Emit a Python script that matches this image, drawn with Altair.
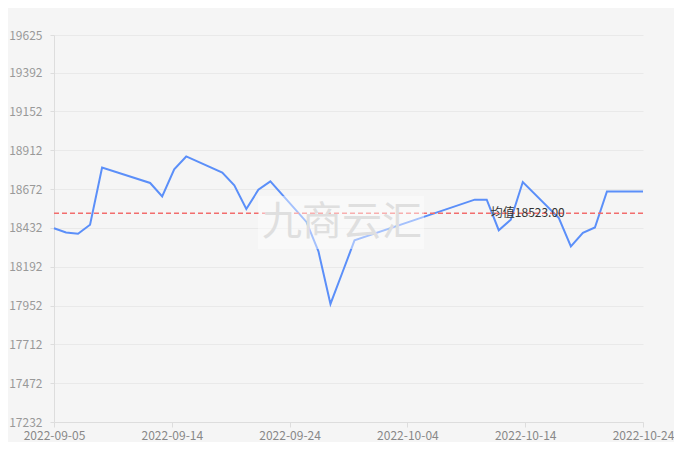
import altair as alt
import pandas as pd

dates = [
    "2022-09-05", "2022-09-06", "2022-09-07", "2022-09-08", "2022-09-09",
    "2022-09-13", "2022-09-14", "2022-09-15", "2022-09-16",
    "2022-09-19", "2022-09-20", "2022-09-21", "2022-09-22", "2022-09-23",
    "2022-09-26", "2022-09-27", "2022-09-28", "2022-09-29", "2022-09-30",
    "2022-10-10", "2022-10-11", "2022-10-12", "2022-10-13", "2022-10-14",
    "2022-10-17", "2022-10-18", "2022-10-19", "2022-10-20", "2022-10-21",
    "2022-10-24",
]
values = [
    18430, 18404, 18396, 18452, 18806,
    18710, 18627, 18794, 18874,
    18774, 18695, 18549, 18668, 18720,
    18469, 18287, 17962, 18158, 18355,
    18607, 18607, 18418, 18483, 18716,
    18493, 18318, 18401, 18435, 18658,
    18658,
]
y_ticks = [17232, 17472, 17712, 17952, 18192, 18432, 18672, 18912, 19152, 19392, 19625]
mean_value = 18523.00
mean_label = "均值18523.00"
mean_label_date = "2022-10-14"
watermark = "九商云汇"

FONT = "Noto Sans CJK SC"

df = pd.DataFrame({"date": dates, "value": values})

x_ticks = [
    alt.DateTime(year=2022, month=9, date=5, utc=True),
    alt.DateTime(year=2022, month=9, date=14, hours=19, minutes=12, utc=True),
    alt.DateTime(year=2022, month=9, date=24, hours=14, minutes=24, utc=True),
    alt.DateTime(year=2022, month=10, date=4, hours=9, minutes=36, utc=True),
    alt.DateTime(year=2022, month=10, date=14, hours=4, minutes=48, utc=True),
    alt.DateTime(year=2022, month=10, date=24, utc=True),
]

x_scale = alt.Scale(
    type="utc",
    domain=[alt.DateTime(year=2022, month=9, date=5, utc=True),
            alt.DateTime(year=2022, month=10, date=24, utc=True)],
    nice=False,
)
y_scale = alt.Scale(domain=[y_ticks[0], y_ticks[-1]], nice=False, zero=False)

x_enc = alt.X(
    "date:T", scale=x_scale,
    axis=alt.Axis(values=x_ticks, format="%Y-%m-%d", title=None, grid=False,
                  labelColor="#888888", labelFontSize=12, labelFont=FONT,
                  tickColor="#dddddd", tickSize=5, domainColor="#dddddd",
                  labelPadding=3, labelAngle=0, labelFlush=False, labelOverlap=False,
                  tickCount=20),
)
y_enc = alt.Y(
    "value:Q", scale=y_scale,
    axis=alt.Axis(values=y_ticks, title=None, grid=True, gridColor="#e9e9e9",
                  labelColor="#999999", labelFontSize=12, labelFont=FONT,
                  tickColor="#dddddd", tickSize=4, domainColor="#dddddd",
                  labelPadding=8, format="d", labelOverlap=False, labelFlush=False,
                  tickCount=20),
)

line = alt.Chart(df).mark_line(color="#5b8ff9", strokeWidth=2).encode(x=x_enc, y=y_enc)

mean_df = pd.DataFrame({"value": [mean_value], "date": [mean_label_date], "label": [mean_label]})
rule = alt.Chart(mean_df).mark_rule(color="#f26d6d", strokeDash=[5, 3], strokeWidth=1.5).encode(
    y=alt.Y("value:Q", scale=y_scale)
)
label = alt.Chart(mean_df).mark_text(
    font=FONT, fontSize=12, color="#333333", align="center", baseline="middle", dx=5
).encode(
    x=alt.X("date:T", scale=x_scale),
    y=alt.Y("value:Q", scale=y_scale),
    text="label:N",
)

wm_rect = alt.Chart(mean_df).mark_rect(color="white", opacity=0.45).encode(
    x=alt.value(204), x2=alt.value(370), y=alt.value(161), y2=alt.value(214)
)
wm_text = alt.Chart(mean_df).mark_text(
    text=watermark, font=FONT, fontSize=40, color="#dfdfdf", align="center", baseline="middle"
).encode(x=alt.value(288), y=alt.value(188))

chart = alt.layer(line, rule, wm_rect, wm_text, label).properties(
    width=589, height=387,
    autosize=alt.AutoSizeParams(type="none"),
    padding={"left": 46, "top": 27, "right": 31, "bottom": 20},
    background="#f5f5f5",
).configure_view(stroke=None)

chart.save("out.html", embed_options={"renderer": "svg", "actions": False})
